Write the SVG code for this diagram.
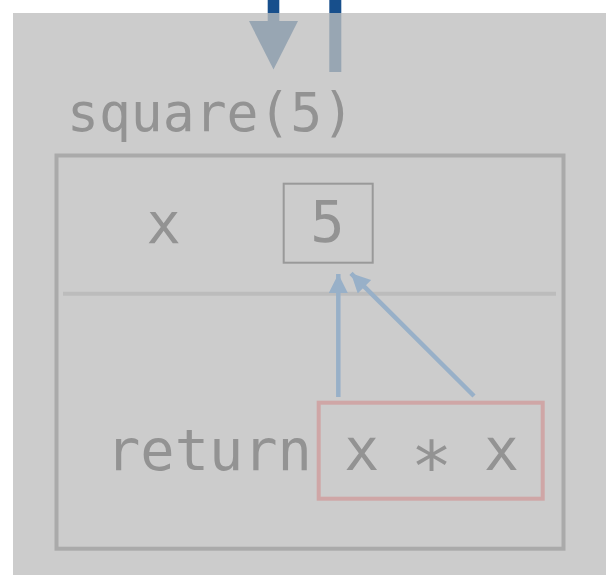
<svg xmlns="http://www.w3.org/2000/svg" width="613" height="579" viewBox="0 0 613 579">
  <defs>
    <style>
      .mono { font-family: "DejaVu Sans Mono", "Liberation Mono", monospace; fill: #939393; }
      .frame { fill: none; stroke: #aaaaaa; stroke-width: 4; }
      .ref { stroke: #98b0c8; stroke-width: 4.5; fill: none; }
    </style>
    <marker id="head" markerUnits="userSpaceOnUse" markerWidth="20" markerHeight="20" refX="19" refY="9.5" orient="auto">
      <path d="M0,0 L19,9.5 L0,19 Z" fill="#98b0c8"/>
    </marker>
    <filter id="soft" x="-10%" y="-10%" width="120%" height="130%">
      <feGaussianBlur stdDeviation="1.5"/>
    </filter>
  </defs>

  <rect x="0" y="0" width="613" height="579" fill="#ffffff"/>

  <g id="incoming">
    <rect x="267.7" y="0" width="11.6" height="13" fill="#174f8c"/>
    <rect x="329.3" y="0" width="12" height="13" fill="#174f8c"/>
  </g>

  <g id="overlay">
    <rect x="13" y="13" width="593" height="562" fill="#cccccc"/>
  </g>

  <g id="incoming-dim">
    <rect x="267.7" y="13" width="11.6" height="9" fill="#98a6b3"/>
    <polygon points="249,21 298,21 273.5,69.5" fill="#98a6b3"/>
    <rect x="329.3" y="13" width="12" height="59" fill="#98a6b3"/>
  </g>

  <g id="title">
    <text class="mono" x="67" y="131" font-size="53">square(5)</text>
  </g>

  <g id="frame">
    <rect class="frame" x="56.5" y="155.5" width="507" height="393.2"/>
    <line x1="63" y1="297" x2="556" y2="297" stroke="#c2c2c2" stroke-width="7" filter="url(#soft)"/>
    <line x1="63" y1="293.7" x2="556" y2="293.7" stroke="#bcbcbc" stroke-width="4"/>
  </g>

  <g id="param-x">
    <text class="mono" x="163.7" y="243" font-size="57" text-anchor="middle">x</text>
  </g>

  <g id="value-5">
    <rect x="283.7" y="183.7" width="89" height="79" fill="none" stroke="#999999" stroke-width="2"/>
    <text class="mono" x="327.5" y="242.3" font-size="57" text-anchor="middle">5</text>
  </g>

  <g id="return-label">
    <text class="mono" x="106" y="470" font-size="57">return</text>
  </g>

  <g id="expr">
    <rect x="318.7" y="402.7" width="224" height="96" fill="none" stroke="#cfa6a6" stroke-width="4"/>
    <text class="mono" x="344.2" y="470" font-size="58" xml:space="preserve">x <tspan font-size="69" dx="-3.3" dy="21">*</tspan><tspan dx="-3.3" dy="-21"> x</tspan></text>
  </g>

  <g id="connectors">
    <line class="ref" x1="338.3" y1="397" x2="338.3" y2="274" marker-end="url(#head)"/>
    <line class="ref" x1="474" y1="396" x2="351" y2="273.3" marker-end="url(#head)"/>
  </g>
</svg>
